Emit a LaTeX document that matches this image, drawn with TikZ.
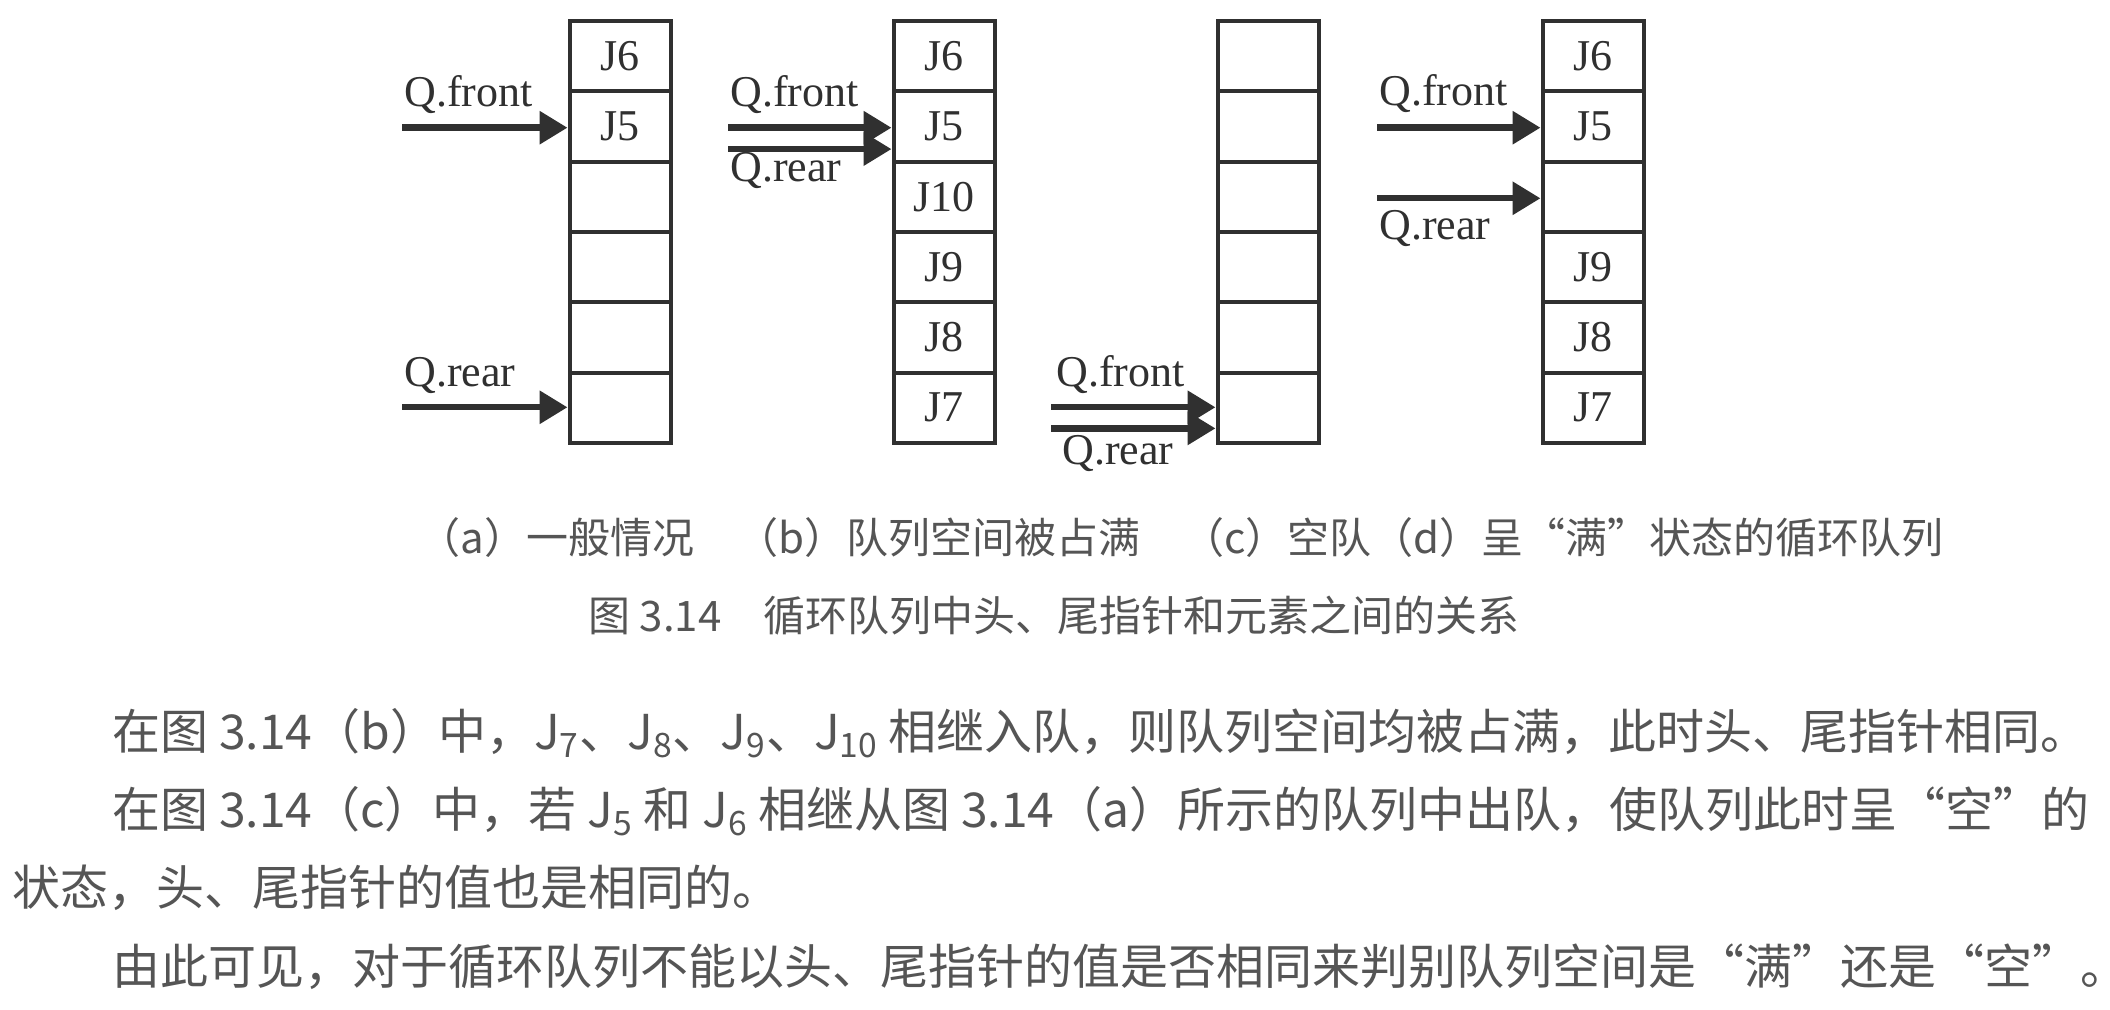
\documentclass[tikz,border=0pt]{standalone}
\usepackage{fontspec}
\setmainfont{Liberation Serif}
\newfontfamily\cjk{Noto Sans CJK SC}
\usetikzlibrary{arrows.meta}

\definecolor{ink}{HTML}{303030}
\definecolor{textgray}{HTML}{555555}

\tikzset{
  cell/.style={draw=ink, line width=2pt, minimum width=50.5pt, minimum height=35.15pt,
    inner sep=0pt, text=ink, font=\fontsize{22}{22}\selectfont},
  ptr/.style={draw=ink, line width=3.2pt, -{Triangle[length=14pt,width=16pt]}},
  lbl/.style={anchor=base west, inner sep=0pt, text=ink, font=\fontsize{22}{22}\selectfont},
  captext/.style={anchor=west, inner sep=0pt, text=textgray, font=\cjk\fontsize{21}{21}\selectfont},
  body/.style={anchor=west, inner sep=0pt, text=textgray, font=\cjk\fontsize{24}{24}\selectfont}
}

\begin{document}
\begin{tikzpicture}[x=0.5pt,y=-0.5pt]
  \useasboundingbox[fill=white] (0,0) rectangle (2110,1010);

  % (a) general case
  \node[cell] (a1) at (620,56.2) {J6};
  \node[cell] (a2) at (620,126.5) {J5};
  \node[cell] (a3) at (620,196.8) {};
  \node[cell] (a4) at (620,267.1) {};
  \node[cell] (a5) at (620,337.4) {};
  \node[cell] (a6) at (620,407.7) {};

  % (b) queue full
  \node[cell] (b1) at (944,56.2) {J6};
  \node[cell] (b2) at (944,126.5) {J5};
  \node[cell] (b3) at (944,196.8) {J10};
  \node[cell] (b4) at (944,267.1) {J9};
  \node[cell] (b5) at (944,337.4) {J8};
  \node[cell] (b6) at (944,407.7) {J7};

  % (c) empty queue
  \node[cell] (c1) at (1268,56.2) {};
  \node[cell] (c2) at (1268,126.5) {};
  \node[cell] (c3) at (1268,196.8) {};
  \node[cell] (c4) at (1268,267.1) {};
  \node[cell] (c5) at (1268,337.4) {};
  \node[cell] (c6) at (1268,407.7) {};

  % (d) full circular queue
  \node[cell] (d1) at (1593,56.2) {J6};
  \node[cell] (d2) at (1593,126.5) {J5};
  \node[cell] (d3) at (1593,196.8) {};
  \node[cell] (d4) at (1593,267.1) {J9};
  \node[cell] (d5) at (1593,337.4) {J8};
  \node[cell] (d6) at (1593,407.7) {J7};

  % pointers
  \coordinate (fa) at (402,127.7);
  \coordinate (ra) at (402,407.3);
  \coordinate (fb) at (728,127.7);
  \coordinate (rb) at (728,149.1);
  \coordinate (fc) at (1051,407.3);
  \coordinate (rc) at (1051,428.4);
  \coordinate (fd) at (1377,127.7);
  \coordinate (rd) at (1377,198.3);

  \draw[ptr] (fa) -- (fa -| a2.west);
  \draw[ptr] (ra) -- (ra -| a6.west);
  \draw[ptr] (fb) -- (fb -| b2.west);
  \draw[ptr] (rb) -- (rb -| b2.west);
  \draw[ptr] (fc) -- (fc -| c6.west);
  \draw[ptr] (rc) -- (rc -| c6.west);
  \draw[ptr] (fd) -- (fd -| d2.west);
  \draw[ptr] (rd) -- (rd -| d3.west);

  \node[lbl] (qfa) at (404,106.8) {Q.front};
  \node[lbl] (qra) at (404,386.8) {Q.rear};
  \node[lbl] (qfb) at (730,106.8) {Q.front};
  \node[lbl] (qrb) at (730,181.7) {Q.rear};
  \node[lbl] (qfc) at (1056,386.7) {Q.front};
  \node[lbl] (qrc) at (1062,465) {Q.rear};
  \node[lbl] (qfd) at (1379,106) {Q.front};
  \node[lbl] (qrd) at (1379,240) {Q.rear};

  % captions
  \node[captext] (sub) at (418,538) {（a）一般情况\quad（b）队列空间被占满\quad（c）空队（d）呈“满”状态的循环队列};
  \node[captext] (title) at (588,616) {图 3.14\quad 循环队列中头、尾指针和元素之间的关系};

  % text below the figure
  \node[body] (l1) at (112,733) {在图 3.14（b）中，J\textsubscript{7}、J\textsubscript{8}、J\textsubscript{9}、J\textsubscript{10} 相继入队，则队列空间均被占满，此时头、尾指针相同。};
  \node[body] (l2) at (112,811) {在图 3.14（c）中，若 J\textsubscript{5} 和 J\textsubscript{6} 相继从图 3.14（a）所示的队列中出队，使队列此时呈“空”的};
  \node[body] (l3) at (12,888) {状态，头、尾指针的值也是相同的。};
  \node[body] (l4) at (112,967) {由此可见，对于循环队列不能以头、尾指针的值是否相同来判别队列空间是“满”还是“空”。};
\end{tikzpicture}
\end{document}
